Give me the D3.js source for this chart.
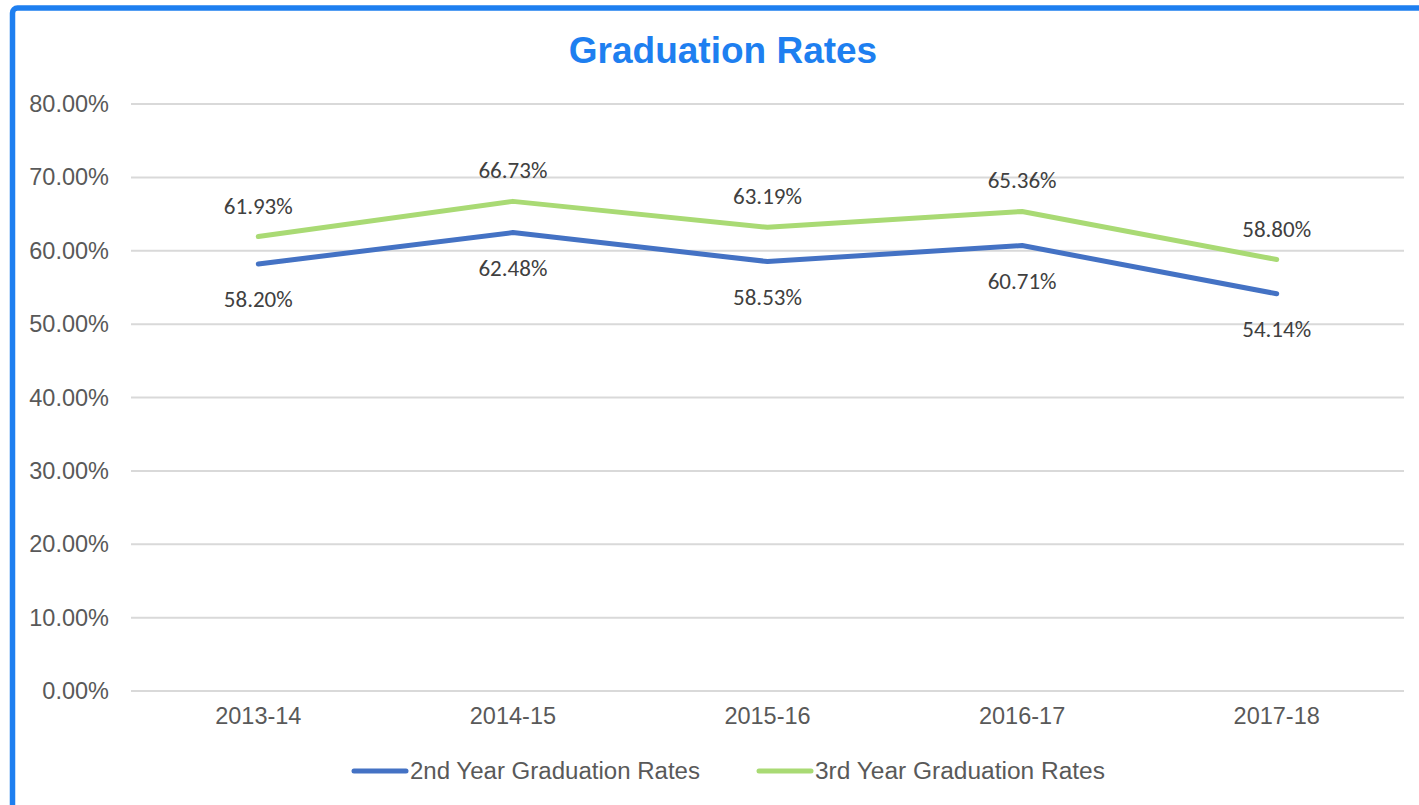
<!DOCTYPE html>
<html>
<head>
<meta charset="utf-8">
<script src="https://cdn.jsdelivr.net/npm/d3@7"></script>
<style>
  body { margin: 0; background: #fff; }
  svg { display: block; }
</style>
</head>
<body>
<div id="chart"></div>
<script>
/* graduation rates line chart */

const years = ["2013-14", "2014-15", "2015-16", "2016-17", "2017-18"];
const secondYear = [58.20, 62.48, 58.53, 60.71, 54.14];
const thirdYear = [61.93, 66.73, 63.19, 65.36, 58.80];
const yTicks = [0, 10, 20, 30, 40, 50, 60, 70, 80];
const seriesNames = ["2nd Year Graduation Rates", "3rd Year Graduation Rates"];

const width = 1419,
      height = 805,
      margin = ({ top: 104, right: 15, bottom: 114, left: 131 });

const blue = "#4472C4",
      green = "#A9DA74",
      textGrey = "#595959";

let svg = d3.select("#chart")
    .append("svg")
    .attr("width", width)
    .attr("height", height);

// blue frame (only top and left visible)
svg.append("rect")
    .attr("x", 12.5)
    .attr("y", 8)
    .attr("width", width + 20)
    .attr("height", height + 20)
    .attr("rx", 5)
    .attr("fill", "none")
    .attr("stroke", "#1E7FF0")
    .attr("stroke-width", 5.5);

// title
svg.append("text")
    .attr("x", 723)
    .attr("y", 50)
    .attr("dominant-baseline", "central")
    .attr("text-anchor", "middle")
    .attr("font-family", "Liberation Sans, Arial, sans-serif")
    .attr("font-weight", "bold")
    .attr("font-size", 37)
    .attr("fill", "#1E7FF0")
    .text("Graduation Rates");

let x = d3.scaleBand()
    .domain(years)
    .range([margin.left, width - margin.right])
    .padding(0);

let y = d3.scaleLinear()
    .domain([0, 80])
    .range([height - margin.bottom, margin.top]);

const cx = d => x(d) + x.bandwidth() / 2;

// gridlines
svg.append("g")
    .selectAll("line")
    .data(yTicks)
    .join("line")
    .attr("x1", margin.left)
    .attr("x2", width - margin.right)
    .attr("y1", d => y(d))
    .attr("y2", d => y(d))
    .attr("stroke", "#D9D9D9")
    .attr("stroke-width", 2);

// y axis labels
const yAxis = g => g
    .attr("transform", `translate(${margin.left - 22}, 0)`)
    .call(d3.axisLeft(y).tickValues(yTicks).tickFormat(d => d.toFixed(2) + "%").tickSize(0).tickPadding(0))
    .call(g => g.select(".domain").remove())
    .call(g => g.selectAll("text")
        .attr("font-family", "Liberation Sans, Arial, sans-serif")
        .attr("font-size", 23.5)
        .attr("fill", textGrey));

svg.append("g").call(yAxis);

// x axis labels
const xAxis = g => g
    .attr("transform", `translate(0, ${height - margin.bottom + 16})`)
    .call(d3.axisBottom(x).tickSize(0).tickPadding(0))
    .call(g => g.select(".domain").remove())
    .call(g => g.selectAll("text")
        .attr("font-family", "Liberation Sans, Arial, sans-serif")
        .attr("font-size", 23.5)
        .attr("fill", textGrey));

svg.append("g").call(xAxis);

const line = d3.line()
    .x((d, i) => cx(years[i]))
    .y(d => y(d));

const series = [
    { name: seriesNames[0], values: secondYear, color: blue, dy: 35 },
    { name: seriesNames[1], values: thirdYear, color: green, dy: -31 }
];

for (let s of series) {
    svg.append("path")
        .datum(s.values)
        .attr("d", line)
        .attr("fill", "none")
        .attr("stroke", s.color)
        .attr("stroke-width", 5)
        .attr("stroke-linecap", "round")
        .attr("stroke-linejoin", "round");

    svg.append("g")
        .selectAll("text")
        .data(s.values)
        .join("text")
        .attr("x", (d, i) => cx(years[i]))
        .attr("y", d => y(d) + s.dy)
        .attr("dominant-baseline", "central")
        .attr("text-anchor", "middle")
        .attr("font-family", "Carlito, Lato, sans-serif")
        .attr("font-size", 23)
        .attr("fill", "#404040")
        .text(d => d.toFixed(2) + "%");
}

// legend
const legendX = [352, 757];
let legend = svg.append("g")
    .selectAll("g")
    .data(series)
    .join("g")
    .attr("transform", (d, i) => `translate(${legendX[i]}, 771)`);

legend.append("line")
    .attr("x1", 2)
    .attr("x2", 54)
    .attr("stroke", d => d.color)
    .attr("stroke-width", 5)
    .attr("stroke-linecap", "round");

legend.append("text")
    .attr("x", 58)
    .attr("y", 0)
    .attr("dominant-baseline", "central")
    .attr("font-family", "Liberation Sans, Arial, sans-serif")
    .attr("font-size", 23.5)
    .attr("textLength", 290)
    .attr("lengthAdjust", "spacingAndGlyphs")
    .attr("fill", textGrey)
    .text(d => d.name);
</script>
</body>
</html>
